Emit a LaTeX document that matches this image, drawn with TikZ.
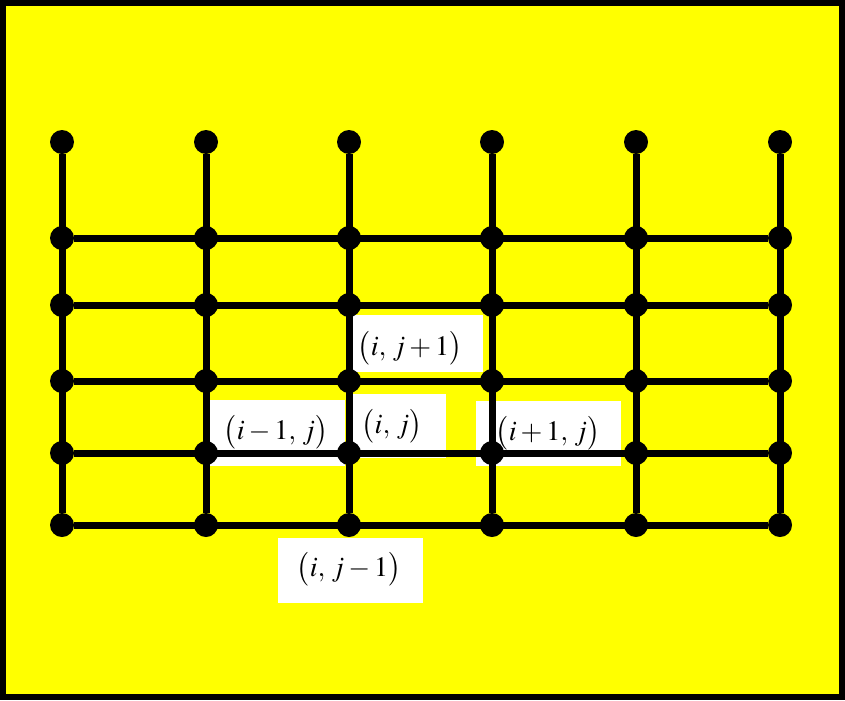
\documentclass[tikz,border=0pt]{standalone}
\usepackage{mathptmx}
\usetikzlibrary{positioning}
\definecolor{bgyellow}{RGB}{255,255,0}

\begin{document}
\begin{tikzpicture}[x=0.03cm,y=-0.03cm,
  dot/.style={circle,fill=black,inner sep=0pt,minimum size=0.72cm},
  gridline/.style={line width=0.21cm,black},
  box/.style={fill=white,inner sep=0pt},
  lbl/.style={inner sep=0pt,font=\fontsize{24}{28}\selectfont}]
  \fill[black] (0,0) rectangle (845,700);
  \fill[bgyellow] (6,6) rectangle (839,694);

  % label boxes (under the grid)
  \node[box,minimum width=3.9cm,minimum height=1.71cm] (bup) at (418,343) {};
  \node[box,minimum width=4.05cm,minimum height=1.98cm] (bleft) at (277,433) {};
  \node[box,minimum width=2.79cm,minimum height=1.92cm] (bmid) at (399,426) {};
  \node[box,minimum width=4.35cm,minimum height=1.95cm] (bright) at (548,433) {};
  \node[box,minimum width=4.35cm,minimum height=1.95cm] (bdown) at (350,570) {};
  \node[lbl] (up) at (410,348) {$\bigl(i,\,j+1\bigr)$};
  \node[lbl] (left) at (276,432) {$\bigl(i-1,\,j\bigr)$};
  \node[lbl] (mid) at (392,426) {$\bigl(i,\,j\bigr)$};
  \node[lbl] (right) at (548,433) {$\bigl(i+1,\,j\bigr)$};
  \node[lbl] (down) at (349,569) {$\bigl(i,\,j-1\bigr)$};

  % grid points
  \foreach \c [count=\i] in {62,206,349,492,636,780}
    \foreach \r [count=\j] in {142,238,305,381,453,525}
      \node[dot] (p\i-\j) at (\c,\r) {};

  \foreach \i in {1,...,6}
    \draw[gridline] (p\i-1) -- (p\i-6);
  \foreach \j in {2,...,6}
    \draw[gridline] (p1-\j) -- (p6-\j);
\end{tikzpicture}
\end{document}
